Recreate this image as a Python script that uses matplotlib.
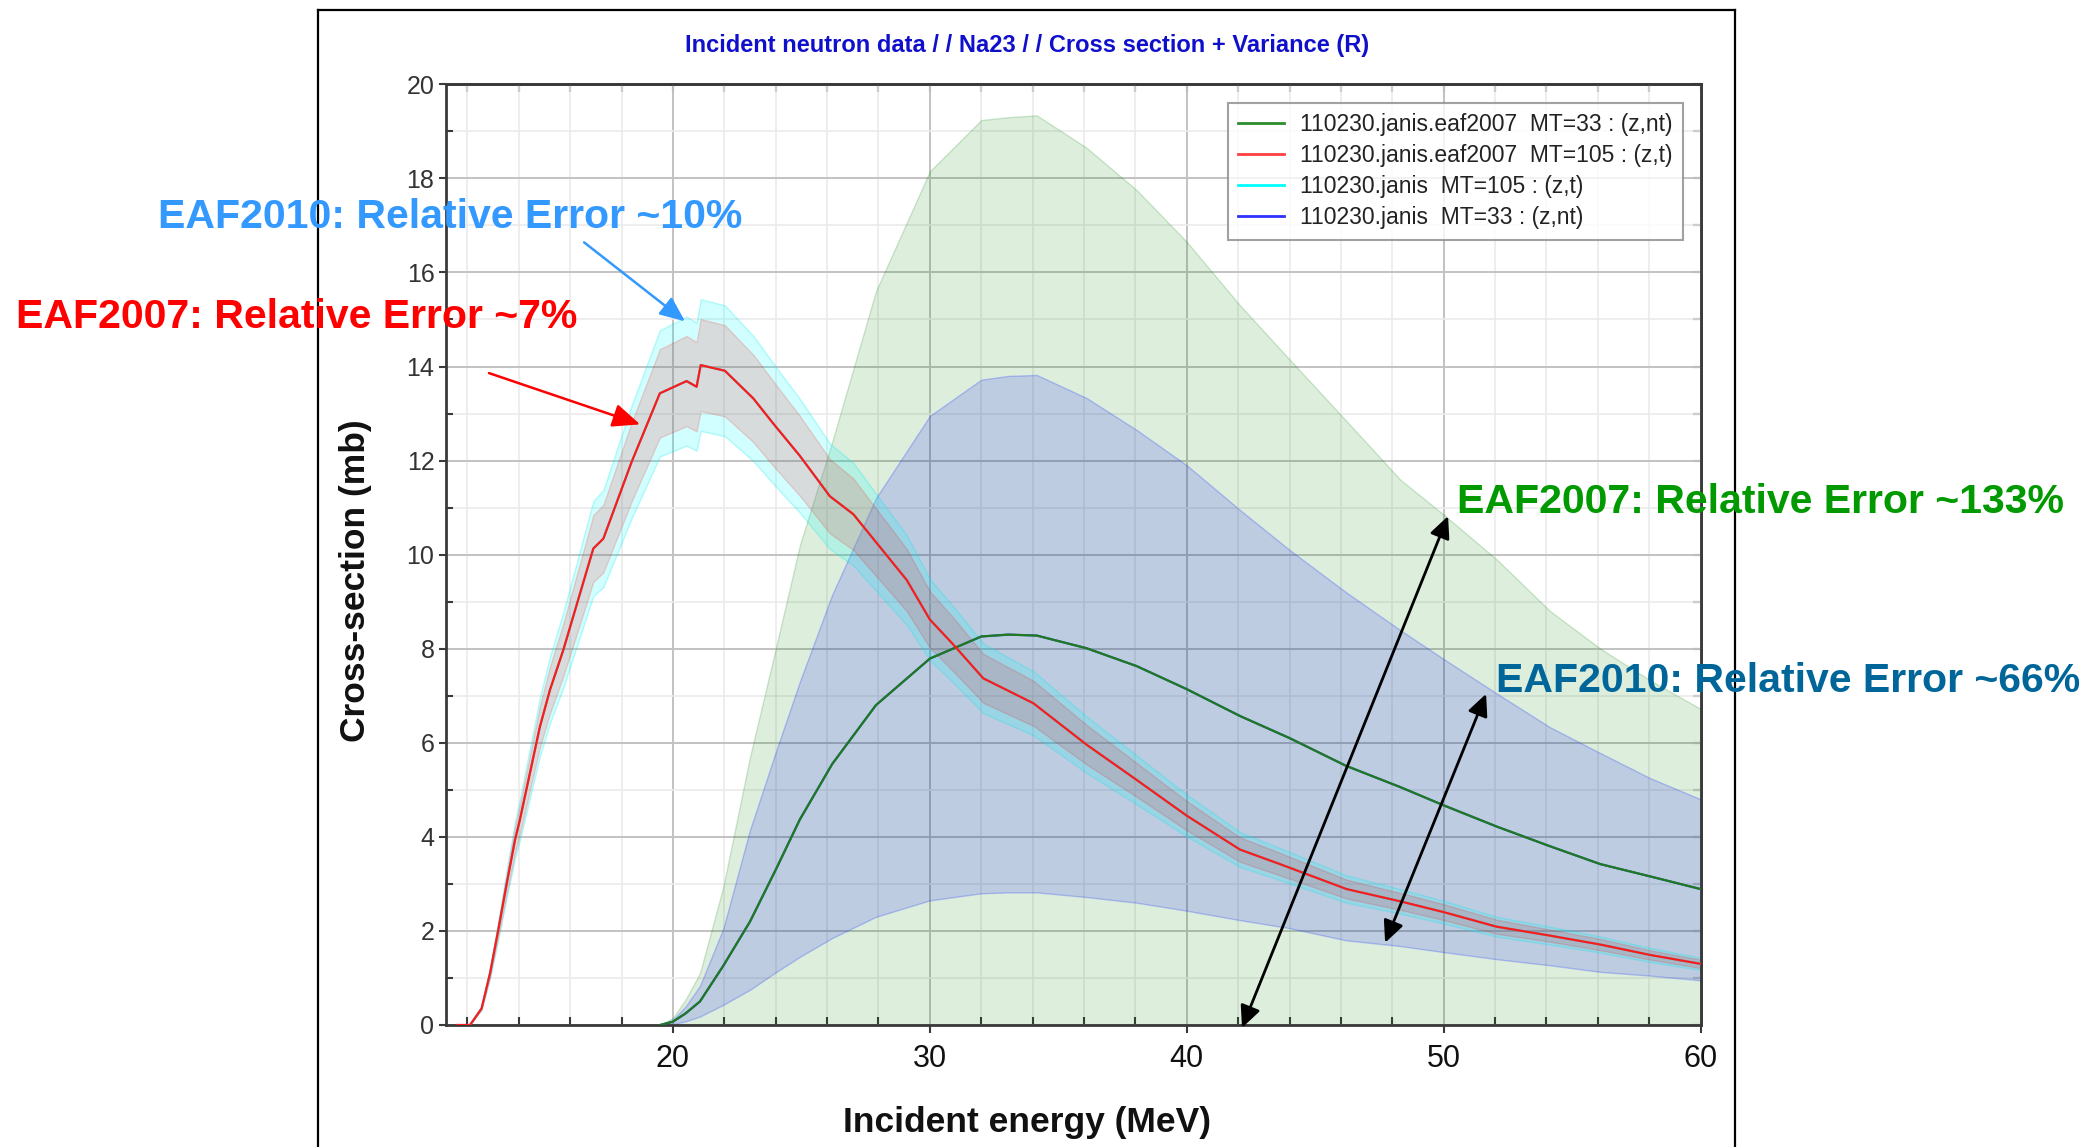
import matplotlib
matplotlib.use('Agg')
import matplotlib.pyplot as plt
from matplotlib.ticker import MultipleLocator
from matplotlib.lines import Line2D

W, H = 2098, 1147
plt.rcParams['font.family'] = ['Liberation Sans', 'DejaVu Sans']

# ---------------- data ----------------
# MT=105 (z,t) : EAF2007 (red) / EAF2010 (cyan) share the same central curve
e_t = [11.6, 12.1, 12.55, 12.88, 13.2, 13.52, 13.85, 14.04, 14.82, 15.21, 15.73, 16.25,
       16.9, 17.29, 18.39, 19.49, 20.53, 20.92, 21.08, 22.02, 23.13, 23.9, 24.94, 26.11,
       27.02, 29.1, 30.0, 30.91, 32.08, 34.03, 36.1, 38.05, 40.0, 42.07, 43.63, 46.22,
       48.3, 50.0, 52.06, 54.14, 56.1, 58.03, 60.0]
xs_t = [0, 0, 0.35, 1.10, 2.02, 2.98, 3.93, 4.36, 6.34, 7.12, 7.97, 8.93, 10.13, 10.34,
        11.97, 13.43, 13.69, 13.57, 14.03, 13.91, 13.32, 12.79, 12.1, 11.24, 10.86, 9.46,
        8.62, 8.09, 7.37, 6.84, 5.96, 5.21, 4.45, 3.73, 3.42, 2.89, 2.63, 2.40, 2.09, 1.90,
        1.71, 1.49, 1.30]
# EAF2007 band (~7%)
t07_hi = [0, 0, 0.37, 1.18, 2.16, 3.19, 4.21, 4.67, 6.78, 7.62, 8.53, 9.56, 10.84, 11.06,
          12.81, 14.37, 14.65, 14.52, 15.01, 14.88, 14.25, 13.69, 12.95, 12.03, 11.62, 10.12,
          9.22, 8.66, 7.89, 7.32, 6.38, 5.57, 4.76, 3.99, 3.66, 3.09, 2.81, 2.57, 2.24, 2.03,
          1.83, 1.59, 1.39]
t07_lo = [0, 0, 0.33, 1.02, 1.88, 2.77, 3.65, 4.05, 5.90, 6.62, 7.41, 8.30, 9.42, 9.62,
          11.13, 12.49, 12.73, 12.62, 13.05, 12.94, 12.39, 11.89, 11.25, 10.45, 10.10, 8.80,
          8.02, 7.52, 6.85, 6.36, 5.54, 4.85, 4.14, 3.47, 3.18, 2.69, 2.45, 2.23, 1.94, 1.77,
          1.59, 1.39, 1.21]
# EAF2010 band (~10%)
t10_hi = [0, 0, 0.39, 1.21, 2.22, 3.28, 4.32, 4.80, 6.97, 7.83, 8.77, 9.82, 11.14, 11.37,
          13.17, 14.77, 15.06, 14.93, 15.43, 15.30, 14.65, 14.07, 13.31, 12.36, 11.95, 10.41,
          9.48, 8.90, 8.11, 7.52, 6.56, 5.73, 4.90, 4.10, 3.76, 3.18, 2.89, 2.64, 2.30, 2.09,
          1.88, 1.64, 1.43]
t10_lo = [0, 0, 0.32, 0.99, 1.82, 2.68, 3.54, 3.92, 5.71, 6.41, 7.17, 8.04, 9.12, 9.31,
          10.77, 12.09, 12.32, 12.21, 12.63, 12.52, 11.99, 11.51, 10.89, 10.12, 9.77, 8.51,
          7.76, 7.28, 6.63, 6.16, 5.36, 4.69, 4.01, 3.36, 3.08, 2.60, 2.37, 2.16, 1.88, 1.71,
          1.54, 1.34, 1.17]

# MT=33 (z,nt) : EAF2007 (green) / EAF2010 (blue) share the same central curve
e_nt = [19.5, 20.0, 20.5, 21.05, 21.96, 23.0, 24.0, 24.94, 26.2, 27.9, 30.0, 32.0, 33.05,
        34.16, 36.1, 38.05, 40.0, 42.07, 44.0, 46.2, 48.3, 50.0, 52.06, 54.14, 56.1, 58.03, 60.0]
xs_nt = [0.0, 0.07, 0.25, 0.50, 1.26, 2.2, 3.3, 4.37, 5.55, 6.8, 7.79, 8.26, 8.30, 8.28,
         8.01, 7.63, 7.14, 6.57, 6.1, 5.51, 5.06, 4.67, 4.22, 3.80, 3.42, 3.16, 2.89]
# EAF2007 band (~133%, lower bound at 0)
nt07_hi = [0.0, 0.15, 0.55, 1.1, 2.94, 5.7, 8.0, 10.2, 12.4, 15.6, 18.15, 19.24, 19.3, 19.34,
           18.65, 17.75, 16.65, 15.3, 14.15, 12.85, 11.6, 10.85, 9.9, 8.8, 8.0, 7.33, 6.72]
nt07_lo = [0.0] * len(e_nt)
# EAF2010 band (~66%)
nt10_hi = [0.0, 0.11, 0.4, 0.83, 2.05, 4.15, 5.8, 7.3, 9.15, 11.2, 12.95, 13.72, 13.8, 13.82,
           13.33, 12.65, 11.9, 10.95, 10.1, 9.2, 8.4, 7.78, 7.05, 6.33, 5.78, 5.25, 4.8]
nt10_lo = [0.0, 0.02, 0.08, 0.18, 0.43, 0.75, 1.12, 1.45, 1.85, 2.3, 2.65, 2.8, 2.82, 2.82,
           2.72, 2.6, 2.43, 2.23, 2.06, 1.8, 1.68, 1.55, 1.4, 1.27, 1.13, 1.05, 0.95]

labels = ['110230.janis.eaf2007  MT=33 : (z,nt)',
          '110230.janis.eaf2007  MT=105 : (z,t)',
          '110230.janis  MT=105 : (z,t)',
          '110230.janis  MT=33 : (z,nt)']

title = 'Incident neutron data / / Na23 / / Cross section + Variance (R)'

# ---------------- figure ----------------
def fx(X):
    return X / W

def fy(Y):
    return 1 - Y / H

fig = plt.figure(figsize=(W / 100, H / 100), dpi=100)
fig.patch.set_facecolor('white')

L, R, T, B = 445.6, 1700.6, 84.3, 1025.0
ax = fig.add_axes([fx(L), fy(B), (R - L) / W, (B - T) / H])
ax.set_xlim(11.15, 60)
ax.set_ylim(0, 20)

ax.set_axisbelow(True)
ax.xaxis.set_major_locator(MultipleLocator(10))
ax.xaxis.set_minor_locator(MultipleLocator(2))
ax.yaxis.set_major_locator(MultipleLocator(2))
ax.yaxis.set_minor_locator(MultipleLocator(1))
ax.grid(which='major', color='#c2c2c2', lw=1.4)
ax.grid(which='minor', color='#ebebeb', lw=1.2)

for s in ax.spines.values():
    s.set_color('#3a3a3a')
    s.set_linewidth(2)

ax.tick_params(axis='x', which='major', direction='out', length=6, width=1.5,
               color='#3a3a3a', labelsize=22, pad=8, labelcolor='#111111')
ax.tick_params(axis='x', which='minor', direction='in', length=6, width=1.5, color='#3a3a3a')
ax.tick_params(axis='y', which='major', direction='out', length=5, width=1.5,
               color='#3a3a3a', labelsize=18, pad=3, labelcolor='#333333')
ax.tick_params(axis='y', which='minor', direction='in', length=5, width=1.5, color='#3a3a3a')

secx = ax.secondary_xaxis('top')
secx.xaxis.set_major_locator(MultipleLocator(10))
secx.xaxis.set_minor_locator(MultipleLocator(2))
secx.tick_params(which='both', direction='in', length=6, width=1.5, color='#3a3a3a',
                 labeltop=False)
secx.spines['top'].set_color('#3a3a3a')
secx.spines['top'].set_linewidth(2)
secy = ax.secondary_yaxis('right')
secy.yaxis.set_major_locator(MultipleLocator(2))
secy.yaxis.set_minor_locator(MultipleLocator(1))
secy.tick_params(which='both', direction='in', length=6, width=1.5, color='#3a3a3a',
                 labelright=False)
secy.spines['right'].set_color('#3a3a3a')
secy.spines['right'].set_linewidth(2)

# bands
ax.fill_between(e_nt, nt07_lo, nt07_hi, facecolor=(0.0, 0.5, 0.0, 0.135),
                edgecolor=(0.0, 0.5, 0.0, 0.18), lw=1, zorder=2)
ax.fill_between(e_nt, nt10_lo, nt10_hi, facecolor=(0.0, 0.0, 1.0, 0.14),
                edgecolor=(0.1, 0.2, 1.0, 0.25), lw=1, zorder=2.1)
ax.fill_between(e_t, t10_lo, t10_hi, facecolor=(0.0, 1.0, 1.0, 0.18),
                edgecolor=(0.0, 0.9, 0.9, 0.25), lw=1, zorder=2.2)
ax.fill_between(e_t, t07_lo, t07_hi, facecolor=(1.0, 0.0, 0.0, 0.14),
                edgecolor=(1.0, 0.0, 0.0, 0.15), lw=1, zorder=2.3)

# central curves
l_cyan, = ax.plot(e_t, xs_t, color='#00e5ff', lw=1.5, zorder=3)
l_blue, = ax.plot(e_nt, xs_nt, color='#3344ff', lw=1.5, zorder=3)
l_green, = ax.plot(e_nt, xs_nt, color='#1f7a1f', lw=1.6, zorder=3.1)
l_red, = ax.plot(e_t, xs_t, color='#ff1a1a', lw=1.6, zorder=3.1)

# legend
lh = [Line2D([], [], color='#2e8b2e', lw=2), Line2D([], [], color='#ff4040', lw=2),
      Line2D([], [], color='#00ffff', lw=2), Line2D([], [], color='#3030ff', lw=2)]
leg = fig.legend(lh, labels, loc='upper left', bbox_to_anchor=(fx(1228), fy(103)),
                 bbox_transform=fig.transFigure, fontsize=16.5, frameon=True,
                 fancybox=False, borderaxespad=0, borderpad=0.45, labelspacing=0.35,
                 handlelength=2.0, handletextpad=0.7)
leg.get_frame().set_edgecolor('#8a8a8a')
leg.get_frame().set_linewidth(1.5)
for t in leg.get_texts():
    t.set_color('#222222')
leg.set_zorder(10)

# titles / labels
fig.text(fx(1027), fy(52), title, ha='center', va='baseline', fontsize=17,
         fontweight='bold', color='#1010cc')
fig.text(fx(1027), fy(1132), 'Incident energy (MeV)', ha='center', va='baseline',
         fontsize=25.5, fontweight='bold', color='#111111')
fig.text(fx(355), fy(581), 'Cross-section (mb)', ha='center', va='center', rotation=90,
         fontsize=25.5, fontweight='bold', color='#111111')

# outer frame
for (x0, y0, x1, y1) in [(318, 10, 318, 1147), (318, 10, 1735, 10), (1735, 10, 1735, 1147)]:
    fig.add_artist(Line2D([fx(x0), fx(x1)], [fy(y0), fy(y1)], color='black', lw=1.6,
                          transform=fig.transFigure))

# annotations
fig.text(fx(158), fy(228), 'EAF2010: Relative Error ~10%', ha='left', va='baseline',
         fontsize=29.5, fontweight='bold', color='#3399ff')
fig.text(fx(16), fy(328), 'EAF2007: Relative Error ~7%', ha='left', va='baseline',
         fontsize=29.5, fontweight='bold', color='#ff0000')
fig.text(fx(1457), fy(513), 'EAF2007: Relative Error ~133%', ha='left', va='baseline',
         fontsize=29.5, fontweight='bold', color='#009900')
fig.text(fx(1496), fy(692), 'EAF2010: Relative Error ~66%', ha='left', va='baseline',
         fontsize=29.5, fontweight='bold', color='#006699')

arrow_style1 = '-|>,head_length=0.7,head_width=0.3'
arrow_style2 = '<|-|>,head_length=0.6,head_width=0.28'
ax.annotate('', xy=(20.47, 14.96), xytext=(16.54, 16.64), annotation_clip=False,
            arrowprops=dict(arrowstyle=arrow_style1, color='#3399ff', lw=1.8,
                            mutation_scale=22, shrinkA=0, shrinkB=0), zorder=8)
ax.annotate('', xy=(18.72, 12.77), xytext=(12.84, 13.86), annotation_clip=False,
            arrowprops=dict(arrowstyle=arrow_style1, color='#ff0000', lw=1.8,
                            mutation_scale=24, shrinkA=0, shrinkB=0), zorder=8)
ax.annotate('', xy=(50.17, 10.82), xytext=(42.15, -0.06), annotation_clip=False,
            arrowprops=dict(arrowstyle=arrow_style2, color='black', lw=2.0,
                            mutation_scale=22, shrinkA=0, shrinkB=0), zorder=8)
ax.annotate('', xy=(51.65, 7.04), xytext=(47.72, 1.75), annotation_clip=False,
            arrowprops=dict(arrowstyle=arrow_style2, color='black', lw=2.0,
                            mutation_scale=22, shrinkA=0, shrinkB=0), zorder=8)

fig.savefig('out.png', dpi=100)
